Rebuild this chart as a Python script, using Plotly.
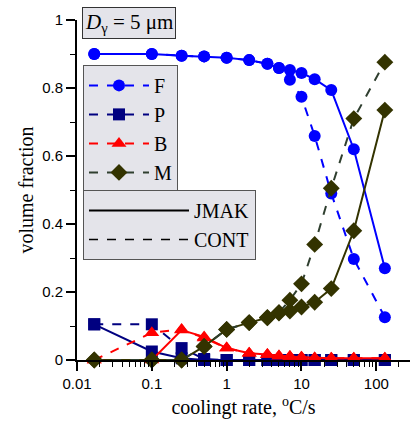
import plotly.graph_objects as go

# cooling rates (°C/s)
rate = [0.017, 0.1, 0.25, 0.5, 1, 2, 3.5, 5, 7, 10, 15, 25, 50, 130]

# JMAK (solid) volume fractions
F_jmak = [0.90, 0.90, 0.895, 0.893, 0.889, 0.882, 0.871, 0.859, 0.853, 0.844, 0.826, 0.794, 0.62, 0.27]
P_jmak = [0.105, 0.025, 0.005, 0.0, 0.0, 0.0, 0.0, 0.0, 0.0, 0.0, 0.0, 0.0, 0.0, 0.0]
B_jmak = [0.0, 0.0, 0.088, 0.068, 0.035, 0.02, 0.016, 0.012, 0.01, 0.008, 0.006, 0.005, 0.005, 0.005]
M_jmak = [0.0, 0.0, 0.0, 0.04, 0.09, 0.11, 0.124, 0.138, 0.144, 0.156, 0.17, 0.21, 0.38, 0.735]

# CONT (dashed) volume fractions
F_cont = [0.90, 0.90, 0.895, 0.893, 0.889, 0.882, 0.871, 0.859, 0.824, 0.774, 0.659, 0.49, 0.297, 0.126]
P_cont = [0.105, 0.105, 0.035, 0.003, 0.0, 0.0, 0.0, 0.0, 0.0, 0.0, 0.0, 0.0, 0.0, 0.0]
B_cont = [0.0, 0.08, 0.09, 0.065, 0.035, 0.02, 0.016, 0.012, 0.01, 0.008, 0.006, 0.005, 0.005, 0.005]
M_cont = [0.0, 0.0, 0.0, 0.04, 0.09, 0.11, 0.125, 0.14, 0.176, 0.224, 0.34, 0.505, 0.71, 0.876]

names = ["F", "P", "B", "M"]
jmak = [F_jmak, P_jmak, B_jmak, M_jmak]
cont = [F_cont, P_cont, B_cont, M_cont]
colors = ["#0000FF", "#000080", "#FF0000", "#333300"]
dash_colors = ["#0000FF", "#000080", "#FF0000", "#2F3F2F"]
symbols = ["circle", "square", "triangle-up", "diamond"]
sizes = [12, 12, 13, 13]

x_ticks = [0.01, 0.1, 1, 10, 100]
x_ticklabels = ["0.01", "0.1", "1", "10", "100"]
y_ticks = [0, 0.2, 0.4, 0.6, 0.8, 1]
y_ticklabels = ["0", "0.2", "0.4", "0.6", "0.8", "1"]

fig = go.Figure()
for i in range(4):
    fig.add_trace(go.Scatter(
        x=rate, y=jmak[i], mode="lines+markers", name=names[i],
        line=dict(color=colors[i], width=2),
        marker=dict(symbol=symbols[i], size=sizes[i], color=colors[i]),
        showlegend=False, cliponaxis=False))
    fig.add_trace(go.Scatter(
        x=rate, y=cont[i], mode="lines+markers", name=names[i],
        line=dict(color=dash_colors[i], width=2, dash="dash"),
        marker=dict(symbol=symbols[i], size=sizes[i], color=colors[i]),
        showlegend=True, legend="legend", cliponaxis=False))

fig.add_trace(go.Scatter(x=[None], y=[None], mode="lines", name="JMAK",
                         line=dict(color="black", width=2), legend="legend2"))
fig.add_trace(go.Scatter(x=[None], y=[None], mode="lines", name="CONT",
                         line=dict(color="black", width=1.5, dash="dash"), legend="legend2"))

serif = "Liberation Serif, Times New Roman, serif"
sans = "Liberation Sans, Arial, sans-serif"

fig.update_layout(
    width=419, height=429,
    margin=dict(l=77, r=9, t=20, b=69),
    plot_bgcolor="white", paper_bgcolor="white",
    xaxis=dict(
        type="log", range=[-2, 2.45],
        tickvals=x_ticks, ticktext=x_ticklabels,
        ticks="outside", ticklen=9, tickwidth=1.5, tickcolor="black",
        minor=dict(ticks="outside", ticklen=5, tickwidth=1, tickcolor="black",
                   dtick="D1"),
        showline=True, linecolor="black", linewidth=2,
        showgrid=False, zeroline=False,
        tickfont=dict(family=sans, size=15, color="black"),
        title=dict(text="coolingt rate, <sup>o</sup>C/s",
                   font=dict(family=serif, size=20, color="black"), standoff=9),
    ),
    yaxis=dict(
        range=[0, 1],
        tickvals=y_ticks, ticktext=y_ticklabels,
        ticks="outside", ticklen=9, tickwidth=1.5, tickcolor="black",
        minor=dict(ticks="outside", ticklen=5, tickwidth=1, tickcolor="black",
                   dtick=0.1),
        showline=True, linecolor="black", linewidth=2,
        showgrid=False, zeroline=False,
        tickfont=dict(family=sans, size=15, color="black"),
        title=dict(text="volume fraction",
                   font=dict(family=serif, size=20, color="black"), standoff=3),
    ),
    legend=dict(
        x=0.018, y=0.868, xanchor="left", yanchor="top",
        bgcolor="#E4E4EA", bordercolor="#555555", borderwidth=1,
        font=dict(family=serif, size=20, color="black"),
        itemwidth=60, tracegroupgap=0,
    ),
    legend2=dict(
        x=0.018, y=0.5, xanchor="left", yanchor="top",
        bgcolor="#E4E4EA", bordercolor="#555555", borderwidth=1,
        font=dict(family=serif, size=20, color="black"),
        itemwidth=100,
    ),
    showlegend=True,
)

fig.add_annotation(
    xref="paper", yref="paper", x=0.015, y=1.038, xanchor="left", yanchor="top",
    text="<i>D</i><sub>γ</sub> = 5 μm", showarrow=False,
    font=dict(family=serif, size=21, color="black"),
    bgcolor="#E4E4EA", bordercolor="#333333", borderwidth=1, borderpad=2,
)

fig.write_html("out.html")
